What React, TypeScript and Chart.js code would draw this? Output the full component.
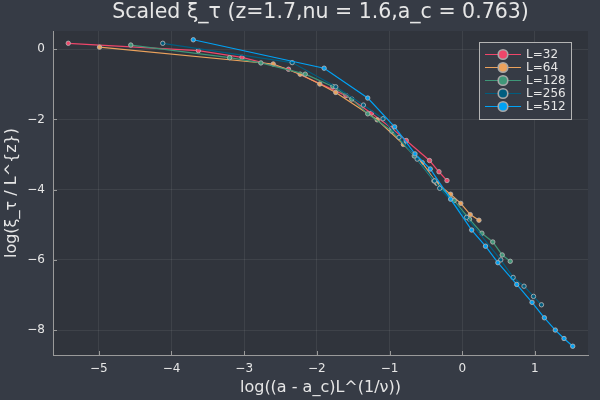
import React, { useRef, useEffect } from 'react';
import { Chart, registerables } from 'chart.js';

Chart.register(...registerables);

const seriesLabels = ['L=32', 'L=64', 'L=128', 'L=256', 'L=512'];
const seriesColors = ['#f0466a', '#eca25c', '#3f9778', '#005d7f', '#00a2f5'];

const l32X = [-5.42, -3.63, -3.03, -2.39, -1.6, -1.25, -0.97, -0.77, -0.45, -0.32, -0.21];
const l32Y = [0.17, -0.04, -0.23, -0.57, -1.32, -1.82, -2.25, -2.6, -3.17, -3.49, -3.74];

const l64X = [-4.99, -2.6, -2.23, -1.96, -1.74, -1.17, -0.81, -0.55, -0.35, -0.16, -0.02, 0.11, 0.23];
const l64Y = [0.06, -0.42, -0.71, -0.99, -1.23, -2.01, -2.71, -3.23, -3.82, -4.13, -4.39, -4.71, -4.87];

const l128X = [-4.56, -3.2, -2.77, -2.16, -1.78, -1.52, -1.3, -0.97, -0.66, -0.39, -0.11, 0.1, 0.27, 0.42, 0.55, 0.66];
const l128Y = [0.12, -0.24, -0.39, -0.71, -1.06, -1.42, -1.84, -2.33, -3.04, -3.75, -4.31, -4.84, -5.24, -5.49, -5.86, -6.04];

const l256X = [-4.12, -2.34, -1.74, -1.36, -1.09, -0.87, -0.62, -0.38, -0.31, 0.06, 0.53, 0.7, 0.85, 0.98, 1.09];
const l256Y = [0.17, -0.38, -1.07, -1.59, -1.98, -2.51, -3.13, -3.75, -3.96, -4.79, -6.0, -6.5, -6.75, -7.04, -7.28];

const l512X = [-3.7, -1.9, -1.3, -0.93, -0.65, -0.44, -0.16, 0.13, 0.32, 0.49, 0.75, 0.96, 1.13, 1.28, 1.4, 1.52];
const l512Y = [0.27, -0.54, -1.39, -2.21, -2.98, -3.41, -4.27, -5.15, -5.61, -6.08, -6.7, -7.21, -7.65, -8.0, -8.24, -8.46];

const seriesX = [l32X, l64X, l128X, l256X, l512X];
const seriesY = [l32Y, l64Y, l128Y, l256Y, l512Y];

const outerBg = '#363b45';
const innerBg = '#30343c';
const fg = '#e6e6e6';
const font = 'DejaVu Sans';

const minus = (v: number) => String(v).replace('-', '\u2212');

const backgroundPlugin = {
    id: 'bgFill',
    beforeDraw(chart: any) {
        const { ctx, chartArea } = chart;
        ctx.save();
        ctx.fillStyle = outerBg;
        ctx.fillRect(0, 0, chart.width, chart.height);
        ctx.fillStyle = innerBg;
        ctx.fillRect(chartArea.left, chartArea.top, chartArea.right - chartArea.left, chartArea.bottom - chartArea.top);
        ctx.restore();
    },
};

// inward tick marks and the legend box in the upper right
const overlayPlugin = {
    id: 'overlay',
    afterDraw(chart: any) {
        const { ctx, chartArea } = chart;
        const xs = chart.scales.x;
        const ys = chart.scales.y;
        ctx.save();
        ctx.strokeStyle = '#9a9a9a';
        ctx.lineWidth = 1;
        xs.ticks.forEach((t: any) => {
            const px = Math.round(xs.getPixelForValue(t.value)) + 0.5;
            ctx.beginPath();
            ctx.moveTo(px, chartArea.bottom);
            ctx.lineTo(px, chartArea.bottom - 4);
            ctx.stroke();
        });
        ys.ticks.forEach((t: any) => {
            const py = Math.round(ys.getPixelForValue(t.value)) + 0.5;
            ctx.beginPath();
            ctx.moveTo(chartArea.left, py);
            ctx.lineTo(chartArea.left + 4, py);
            ctx.stroke();
        });

        const bx = chartArea.right - 109;
        const by = chartArea.top + 11;
        ctx.fillStyle = outerBg;
        ctx.fillRect(bx, by, 92, 77);
        ctx.strokeStyle = '#b4b4b4';
        ctx.strokeRect(bx + 0.5, by + 0.5, 92, 77);
        ctx.font = `12px "${font}"`;
        ctx.textBaseline = 'middle';
        ctx.textAlign = 'left';
        seriesLabels.forEach((label, i) => {
            const y = by + 12.5 + i * 13;
            ctx.strokeStyle = seriesColors[i];
            ctx.lineWidth = 1;
            ctx.beginPath();
            ctx.moveTo(bx + 6, y);
            ctx.lineTo(bx + 42, y);
            ctx.stroke();
            ctx.beginPath();
            ctx.arc(bx + 24, y, 4.8, 0, Math.PI * 2);
            ctx.fillStyle = seriesColors[i];
            ctx.fill();
            ctx.strokeStyle = '#a8a8a8';
            ctx.lineWidth = 1.6;
            ctx.stroke();
            ctx.fillStyle = fg;
            ctx.fillText(label, bx + 47, y + 0.5);
        });
        ctx.restore();
    },
};

const App: React.FC = () => {
    const chartRef = useRef<HTMLCanvasElement>(null);
    const chartInstance = useRef<Chart | null>(null);

    useEffect(() => {
        document.body.style.margin = '0';
        if (chartInstance.current) {
            chartInstance.current.destroy();
        }
        const ctx = chartRef.current?.getContext('2d');
        if (!ctx) return;

        chartInstance.current = new Chart(ctx, {
            type: 'line',
            data: {
                datasets: seriesLabels.map((label, i) => ({
                    label,
                    data: seriesX[i].map((x, j) => ({ x, y: seriesY[i][j] })),
                    borderColor: seriesColors[i],
                    backgroundColor: seriesColors[i],
                    borderWidth: 1.2,
                    pointRadius: 2.2,
                    pointBorderWidth: 1,
                    pointBorderColor: 'rgba(175,175,175,0.9)',
                    pointBackgroundColor: seriesColors[i],
                    tension: 0,
                    fill: false,
                    order: seriesLabels.length - i,
                })),
            },
            options: {
                animation: false,
                responsive: true,
                maintainAspectRatio: false,
                layout: { padding: { right: 12, top: 0, bottom: 0, left: 0 } },
                plugins: {
                    legend: { display: false },
                    tooltip: { enabled: false },
                    title: {
                        display: true,
                        text: 'Scaled ξ_τ (z=1.7,nu = 1.6,a_c = 0.763)',
                        color: fg,
                        fullSize: false,
                        font: { family: font, size: 20.5, weight: 'normal', lineHeight: 1.2 },
                        padding: { top: 0, bottom: 6.4 },
                    },
                },
                scales: {
                    x: {
                        type: 'linear',
                        min: -5.63,
                        max: 1.73,
                        afterFit: (s: any) => { s.height = 45; },
                        border: { display: true, color: '#9a9a9a', width: 1 },
                        grid: { color: 'rgba(255,255,255,0.07)', drawTicks: false },
                        ticks: {
                            stepSize: 1,
                            includeBounds: false,
                            color: fg,
                            padding: 7,
                            font: { family: font, size: 12 },
                            callback: (v: any) => minus(v),
                        },
                        title: {
                            display: true,
                            text: 'log((a - a_c)L^(1/ν))',
                            color: fg,
                            font: { family: font, size: 16 },
                            padding: { top: 0, bottom: 3 },
                        },
                    },
                    y: {
                        type: 'linear',
                        min: -8.71,
                        max: 0.52,
                        afterFit: (s: any) => { s.width = 53; },
                        border: { display: true, color: '#9a9a9a', width: 1 },
                        grid: { color: 'rgba(255,255,255,0.07)', drawTicks: false },
                        ticks: {
                            stepSize: 2,
                            includeBounds: false,
                            color: fg,
                            padding: 8,
                            font: { family: font, size: 12 },
                            callback: (v: any) => minus(v),
                        },
                        title: {
                            display: true,
                            text: 'log(ξ_τ / L^{z})',
                            color: fg,
                            font: { family: font, size: 16 },
                            padding: { top: 2, bottom: 0 },
                        },
                    },
                },
            },
            plugins: [backgroundPlugin, overlayPlugin],
        });

        return () => {
            chartInstance.current?.destroy();
        };
    }, []);

    return (
        <div style={{ position: 'fixed', left: 0, top: 0, width: 600, height: 400 }}>
            <canvas ref={chartRef}></canvas>
        </div>
    );
};

export default App;
